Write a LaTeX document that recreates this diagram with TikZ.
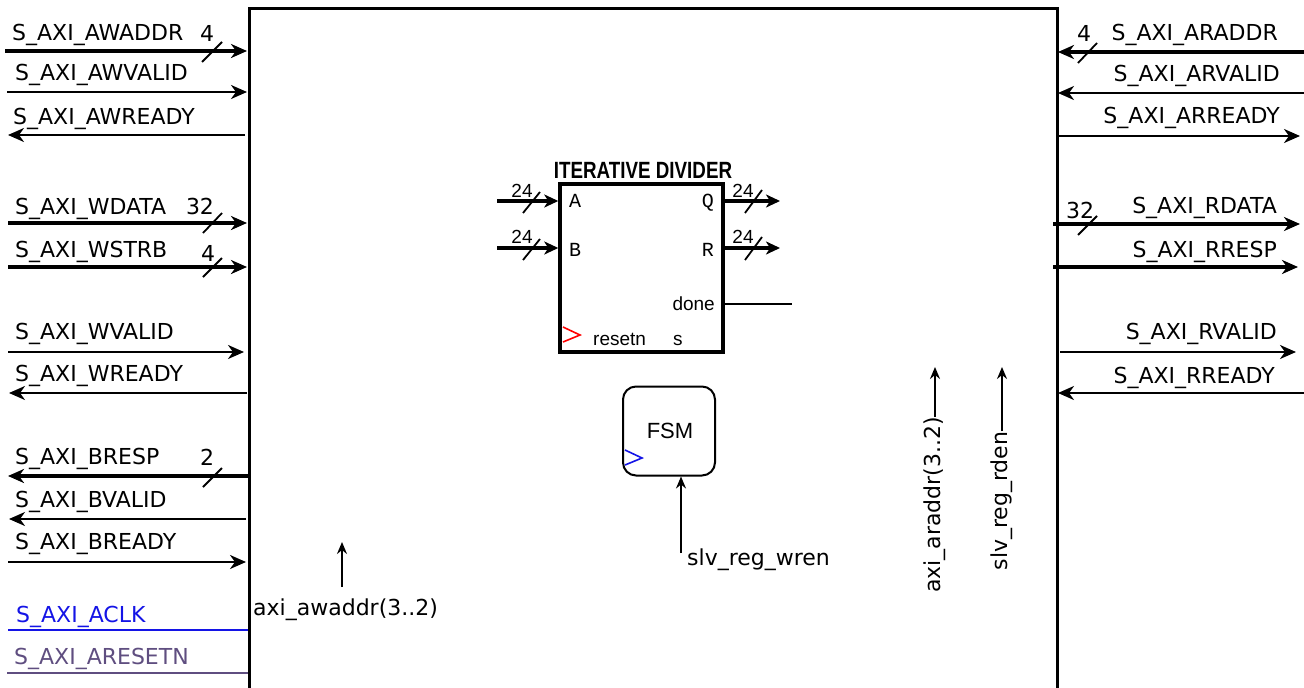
\documentclass[tikz,border=0pt]{standalone}
\usepackage{fontspec}
\setmainfont{DejaVu Sans}
\newfontfamily\arialf{Liberation Sans}
\newfontfamily\monof{Liberation Mono}
\usetikzlibrary{arrows.meta}
\definecolor{clkblue}{RGB}{20,20,230}
\definecolor{rstpurple}{RGB}{95,78,128}
\begin{document}
\begin{tikzpicture}[x=1pt,y=-1pt,
  lab/.style={font=\fontsize{22}{26}\selectfont, inner sep=0pt},
  lbl/.style={lab,anchor=base west},
  rbl/.style={lab,anchor=base east},
  wsig/.style={line width=2.2pt},
  bsig/.style={line width=4pt},
  tip/.style={-{Stealth[length=16pt,width=14pt,inset=5pt]}},
  stip/.style={-{Stealth[length=14pt,width=13pt,inset=4pt]}},
  sl/.style={line width=1.8pt},
  ar/.style={font=\arialf\fontsize{19}{23}\selectfont, inner sep=0pt},
  mo/.style={font=\monof\fontsize{20}{23}\selectfont, inner sep=0pt},
]
\useasboundingbox (0,0) rectangle (1304,688);

% main box
\coordinate (bl) at (249,690); \coordinate (tl) at (249,8);
\coordinate (tr) at (1057,8); \coordinate (br) at (1057,690);
\draw[line width=3pt] (bl) -- (tl) -- (tr) -- (br);

% ---------- left side ----------
\node[lbl] (awaddr) at (12,40) {S\_AXI\_AWADDR};
\coordinate (awaddrA) at (5,51); \coordinate (awaddrB) at (247,51);
\draw[bsig,tip] (awaddrA) -- (awaddrB);
\node[lab,anchor=base] (awaddrw) at (207,41) {4};
\draw[sl] (202,62) -- (222,42);

\node[lbl] (awvalid) at (15,80) {S\_AXI\_AWVALID};
\coordinate (awvalidA) at (7,92); \coordinate (awvalidB) at (247,92);
\draw[wsig,tip] (awvalidA) -- (awvalidB);

\node[lbl] (awready) at (13,124) {S\_AXI\_AWREADY};
\coordinate (awreadyA) at (245,135); \coordinate (awreadyB) at (8,135);
\draw[wsig,tip] (awreadyA) -- (awreadyB);

\node[lbl] (wdata) at (15,214) {S\_AXI\_WDATA};
\coordinate (wdataA) at (8,223); \coordinate (wdataB) at (247,223);
\draw[bsig,tip] (wdataA) -- (wdataB);
\node[lab,anchor=base] (wdataw) at (200,214) {32};
\draw[sl] (203,233) -- (222,213);

\node[lbl] (wstrb) at (15,257) {S\_AXI\_WSTRB};
\coordinate (wstrbA) at (8,267); \coordinate (wstrbB) at (247,267);
\draw[bsig,tip] (wstrbA) -- (wstrbB);
\node[lab,anchor=base] (wstrbw) at (208,261) {4};
\draw[sl] (203,277) -- (222,258);

\node[lbl] (wvalid) at (15,339) {S\_AXI\_WVALID};
\coordinate (wvalidA) at (8,352); \coordinate (wvalidB) at (244,352);
\draw[wsig,tip] (wvalidA) -- (wvalidB);

\node[lbl] (wready) at (15,381) {S\_AXI\_WREADY};
\coordinate (wreadyA) at (247,393); \coordinate (wreadyB) at (9,393);
\draw[wsig,tip] (wreadyA) -- (wreadyB);

\node[lbl] (bresp) at (15,464) {S\_AXI\_BRESP};
\coordinate (brespA) at (250,476); \coordinate (brespB) at (8,476);
\draw[bsig,tip] (brespA) -- (brespB);
\node[lab,anchor=base] (brespw) at (207,465) {2};
\draw[sl] (203,487) -- (222,468);

\node[lbl] (bvalid) at (15,507) {S\_AXI\_BVALID};
\coordinate (bvalidA) at (246,519); \coordinate (bvalidB) at (9,519);
\draw[wsig,tip] (bvalidA) -- (bvalidB);

\node[lbl] (bready) at (15,549) {S\_AXI\_BREADY};
\coordinate (breadyA) at (8,562); \coordinate (breadyB) at (246,562);
\draw[wsig,tip] (breadyA) -- (breadyB);

\node[lbl,text=clkblue] (aclk) at (16,622) {S\_AXI\_ACLK};
\coordinate (aclkA) at (8,630); \coordinate (aclkB) at (248,630);
\draw[wsig,clkblue] (aclkA) -- (aclkB);

\node[lbl,text=rstpurple] (aresetn) at (14,664) {S\_AXI\_ARESETN};
\coordinate (aresetnA) at (7,673); \coordinate (aresetnB) at (248,673);
\draw[wsig,rstpurple] (aresetnA) -- (aresetnB);

% ---------- right side ----------
\node[rbl] (araddr) at (1278,40) {S\_AXI\_ARADDR};
\coordinate (araddrA) at (1304,52); \coordinate (araddrB) at (1058,52);
\draw[bsig,tip] (araddrA) -- (araddrB);
\node[lab,anchor=base] (araddrw) at (1084,41) {4};
\draw[sl] (1078,63) -- (1097,43);

\node[rbl] (arvalid) at (1280,81) {S\_AXI\_ARVALID};
\coordinate (arvalidA) at (1304,93); \coordinate (arvalidB) at (1058,93);
\draw[wsig,tip] (arvalidA) -- (arvalidB);

\node[rbl] (arready) at (1280,123) {S\_AXI\_ARREADY};
\coordinate (arreadyA) at (1058,136); \coordinate (arreadyB) at (1300,136);
\draw[wsig,tip] (arreadyA) -- (arreadyB);

\node[rbl] (rdata) at (1277,213) {S\_AXI\_RDATA};
\coordinate (rdataA) at (1053,224); \coordinate (rdataB) at (1300,224);
\draw[bsig,tip] (rdataA) -- (rdataB);
\node[lab,anchor=base] (rdataw) at (1080,218) {32};
\draw[sl] (1078,235) -- (1097,216);

\node[rbl] (rresp) at (1277,257) {S\_AXI\_RRESP};
\coordinate (rrespA) at (1053,267); \coordinate (rrespB) at (1298,267);
\draw[bsig,tip] (rrespA) -- (rrespB);

\node[rbl] (rvalid) at (1277,339) {S\_AXI\_RVALID};
\coordinate (rvalidA) at (1060,352); \coordinate (rvalidB) at (1296,352);
\draw[wsig,tip] (rvalidA) -- (rvalidB);

\node[rbl] (rready) at (1275,383) {S\_AXI\_RREADY};
\coordinate (rreadyA) at (1304,393); \coordinate (rreadyB) at (1058,393);
\draw[wsig,tip] (rreadyA) -- (rreadyB);

% ---------- iterative divider ----------
\node[draw,line width=3.5pt,inner sep=0pt,minimum width=163pt,minimum height=168pt] (div) at (641.5,268) {};
\node[anchor=base] (divtitle) at (643,178)
  {\scalebox{0.8}[1]{\arialf\bfseries\fontsize{23.5}{27}\selectfont ITERATIVE DIVIDER}};

\coordinate (ain) at (497,201); \coordinate (bin) at (497,248);
\coordinate (qout) at (780,201); \coordinate (rout) at (780,248);
\coordinate (doneout) at (792,304);
\draw[line width=3.5pt,stip] (ain) -- (ain -| div.west);
\draw[line width=3.5pt,stip] (bin) -- (bin -| div.west);
\draw[line width=3.5pt,stip] (qout -| div.east) -- (qout);
\draw[line width=3.5pt,stip] (rout -| div.east) -- (rout);
\draw[line width=1.8pt] (doneout -| div.east) -- (doneout);

\node[ar,anchor=base] (aw) at (522,197) {24};
\node[ar,anchor=base] (bw) at (522,243) {24};
\node[ar,anchor=base] (qw) at (743,197) {24};
\node[ar,anchor=base] (rw) at (743,243) {24};
\draw[sl] (523,213) -- (540,192);
\draw[sl] (523,260) -- (540,239);
\draw[sl] (745,213) -- (762,190);
\draw[sl] (745,260) -- (762,237);

\node[mo,anchor=base west] (pa) at (569,207) {A};
\node[mo,anchor=base west] (pb) at (569,256) {B};
\node[mo,anchor=base east] (pq) at (714,207) {Q};
\node[mo,anchor=base east] (pr) at (714,256) {R};
\node[ar,anchor=base east] (pdone) at (715,310) {done};
\node[ar,anchor=base west] (preset) at (593,345) {resetn};
\node[ar,anchor=base west] (ps) at (673,345) {s};
\draw[red,line width=1.6pt] (563,327) -- (580,335) -- (563,342);

% ---------- FSM ----------
\node[draw,line width=2pt,rounded corners=13pt,inner sep=0pt,minimum width=92pt,minimum height=89pt] (fsm) at (669,431) {};
\node[font=\arialf\fontsize{22}{26}\selectfont,inner sep=0pt] (fsmtxt) at (670,431) {FSM};
\draw[clkblue,line width=1.6pt] (625,450) -- (642,458) -- (625,465);
\coordinate (wren) at (681,553);
\draw[line width=2pt,-{Stealth[length=12pt,width=10pt,inset=4pt]}] (wren) -- (wren |- fsm.south);
\node[lbl] (wrentxt) at (687,565) {slv\_reg\_wren};

% ---------- address arrows ----------
\node[lbl] (awtxt) at (253,615) {axi\_awaddr(3..2)};
\coordinate (awA) at (342,587); \coordinate (awB) at (342,542);
\draw[line width=2pt,-{Stealth[length=12pt,width=10pt,inset=4pt]}] (awA) -- (awB);

\node[lab,rotate=90] (artxt) at (935,505) {axi\_araddr(3..2)};
\coordinate (artip) at (932,367);
\draw[line width=2pt,-{Stealth[length=12pt,width=10pt,inset=4pt]}] (artxt.east) -- (artxt.east |- artip);

\node[lab,rotate=90] (rdtxt) at (1002,501) {slv\_reg\_rden};
\coordinate (rdtip) at (999,367);
\draw[line width=2pt,-{Stealth[length=12pt,width=10pt,inset=4pt]}] (rdtxt.east) -- (rdtxt.east |- rdtip);
\end{tikzpicture}
\end{document}
